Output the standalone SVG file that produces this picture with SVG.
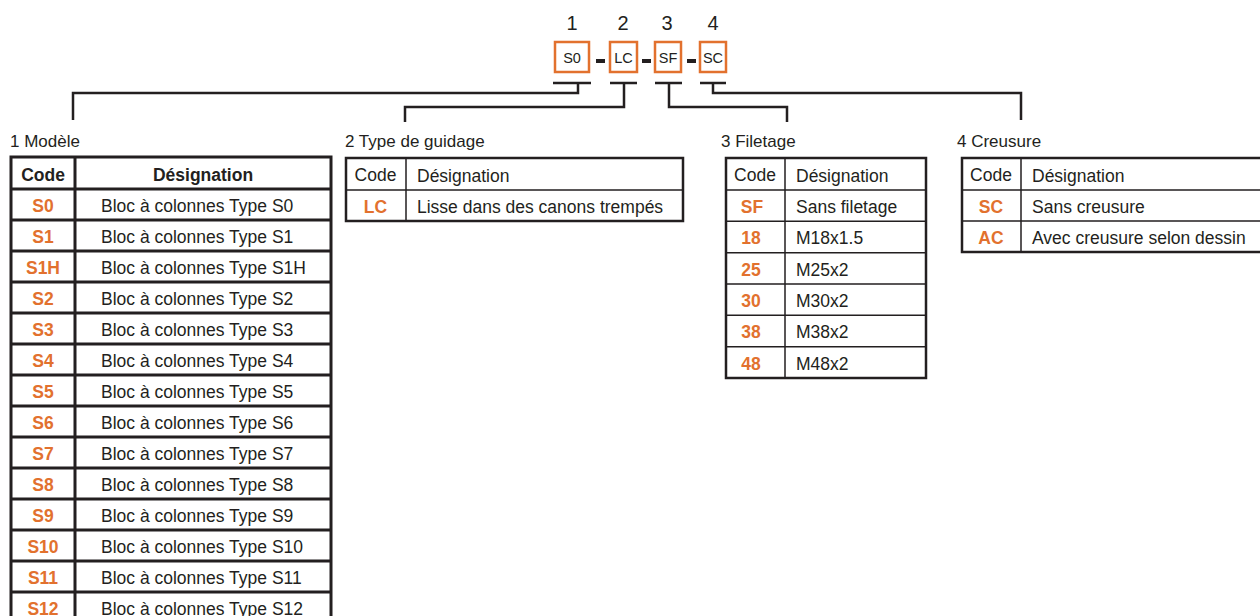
<svg xmlns="http://www.w3.org/2000/svg" width="1260" height="616" viewBox="0 0 1260 616">
<style>
text{font-family:"Liberation Sans",Arial,sans-serif;fill:#231F20}
.num{font-size:20px;text-anchor:middle}
.bx{font-size:14.5px;text-anchor:middle}
.ttl{font-size:17px}
.hd{font-size:17.5px;font-weight:bold;text-anchor:middle}
.hn{font-size:17.5px}
.hc{font-size:17.5px;text-anchor:middle}
.cd{font-size:17.5px;font-weight:bold;fill:#E2712E;text-anchor:middle}
.ds{font-size:17.5px}
.obox{fill:#fff;stroke:#E2712E;stroke-width:2.5}
.dash{fill:#231F20}
.conn{fill:none;stroke:#231F20;stroke-width:2.5}
.t1{fill:none;stroke:#231F20;stroke-width:3}
.to{fill:none;stroke:#231F20;stroke-width:2.5}
.ti{fill:none;stroke:#231F20;stroke-width:1.5}
</style>

<g id="code-header">
  <text class="num" x="572" y="30">1</text>
  <text class="num" x="623" y="30">2</text>
  <text class="num" x="667" y="30">3</text>
  <text class="num" x="713" y="30">4</text>
  <rect class="obox" x="555" y="42" width="34" height="30"/>
  <text class="bx" x="572" y="62.5">S0</text>
  <rect class="dash" x="596" y="59" width="9" height="4"/>
  <rect class="obox" x="610" y="42" width="27" height="30"/>
  <text class="bx" x="623.5" y="62.5">LC</text>
  <rect class="dash" x="642" y="59" width="9" height="4"/>
  <rect class="obox" x="655" y="42" width="26" height="30"/>
  <text class="bx" x="668" y="62.5">SF</text>
  <rect class="dash" x="687" y="59" width="9" height="4"/>
  <rect class="obox" x="700" y="42" width="26" height="30"/>
  <text class="bx" x="713" y="62.5">SC</text>
</g>

<g id="connectors">
  <path class="conn" d="M553 83H591M578 83V93H73V120"/>
  <path class="conn" d="M610 83H637M624 83V107H405V122"/>
  <path class="conn" d="M655 83H682M669 83V107H787V122"/>
  <path class="conn" d="M700 83H726M713 83V93H1021V120"/>
</g>

<g id="table-modele">
  <text class="ttl" x="10" y="147">1 Modèle</text>
  <rect class="t1" x="11" y="157" width="320" height="470"/>
  <path class="t1" d="M75 157V627M11 189H331M11 220H331M11 251H331M11 282H331M11 313H331M11 344H331M11 375H331M11 406H331M11 437H331M11 468H331M11 499H331M11 530H331M11 561H331M11 592H331"/>
  <text class="hd" x="43" y="180.5">Code</text>
  <text class="hd" x="203" y="180.5">Désignation</text>
  <text class="cd" x="43" y="212">S0</text><text class="ds" x="101" y="212">Bloc à colonnes Type S0</text>
  <text class="cd" x="43" y="243">S1</text><text class="ds" x="101" y="243">Bloc à colonnes Type S1</text>
  <text class="cd" x="43" y="274">S1H</text><text class="ds" x="101" y="274">Bloc à colonnes Type S1H</text>
  <text class="cd" x="43" y="305">S2</text><text class="ds" x="101" y="305">Bloc à colonnes Type S2</text>
  <text class="cd" x="43" y="336">S3</text><text class="ds" x="101" y="336">Bloc à colonnes Type S3</text>
  <text class="cd" x="43" y="367">S4</text><text class="ds" x="101" y="367">Bloc à colonnes Type S4</text>
  <text class="cd" x="43" y="398">S5</text><text class="ds" x="101" y="398">Bloc à colonnes Type S5</text>
  <text class="cd" x="43" y="429">S6</text><text class="ds" x="101" y="429">Bloc à colonnes Type S6</text>
  <text class="cd" x="43" y="460">S7</text><text class="ds" x="101" y="460">Bloc à colonnes Type S7</text>
  <text class="cd" x="43" y="491">S8</text><text class="ds" x="101" y="491">Bloc à colonnes Type S8</text>
  <text class="cd" x="43" y="522">S9</text><text class="ds" x="101" y="522">Bloc à colonnes Type S9</text>
  <text class="cd" x="43" y="553">S10</text><text class="ds" x="101" y="553">Bloc à colonnes Type S10</text>
  <text class="cd" x="43" y="584">S11</text><text class="ds" x="101" y="584">Bloc à colonnes Type S11</text>
  <text class="cd" x="43" y="615">S12</text><text class="ds" x="101" y="615">Bloc à colonnes Type S12</text>
</g>

<g id="table-guidage">
  <text class="ttl" x="345" y="147">2 Type de guidage</text>
  <rect class="to" x="346" y="158" width="337" height="63"/>
  <path class="ti" d="M406 158V221M346 190H683"/>
  <text class="hc" x="375.5" y="181">Code</text>
  <text class="hn" x="417" y="181.5">Désignation</text>
  <text class="cd" x="375.5" y="213">LC</text>
  <text class="ds" x="417" y="213">Lisse dans des canons trempés</text>
</g>

<g id="table-filetage">
  <text class="ttl" x="721" y="147">3 Filetage</text>
  <rect class="to" x="726" y="158" width="200" height="220"/>
  <path class="ti" d="M785 158V378M726 190H926M726 221.3H926M726 252.7H926M726 284H926M726 315.3H926M726 346.7H926"/>
  <text class="hc" x="755" y="180.5">Code</text>
  <text class="hn" x="796" y="181.5">Désignation</text>
  <text class="cd" x="752" y="213">SF</text><text class="ds" x="796" y="213">Sans filetage</text>
  <text class="cd" x="751" y="244">18</text><text class="ds" x="796" y="244">M18x1.5</text>
  <text class="cd" x="751" y="275.5">25</text><text class="ds" x="796" y="275.5">M25x2</text>
  <text class="cd" x="751" y="306.5">30</text><text class="ds" x="796" y="306.5">M30x2</text>
  <text class="cd" x="751" y="338">38</text><text class="ds" x="796" y="338">M38x2</text>
  <text class="cd" x="751" y="369.5">48</text><text class="ds" x="796" y="369.5">M48x2</text>
</g>

<g id="table-creusure">
  <text class="ttl" x="957" y="147">4 Creusure</text>
  <rect class="to" x="962" y="158" width="310" height="94"/>
  <path class="ti" d="M1021 158V252M962 190H1272M962 221H1272"/>
  <text class="hc" x="991" y="180.5">Code</text>
  <text class="hn" x="1032" y="181.5">Désignation</text>
  <text class="cd" x="991" y="213">SC</text><text class="ds" x="1032" y="213">Sans creusure</text>
  <text class="cd" x="991" y="244">AC</text><text class="ds" x="1032" y="244">Avec creusure selon dessin</text>
</g>
</svg>
